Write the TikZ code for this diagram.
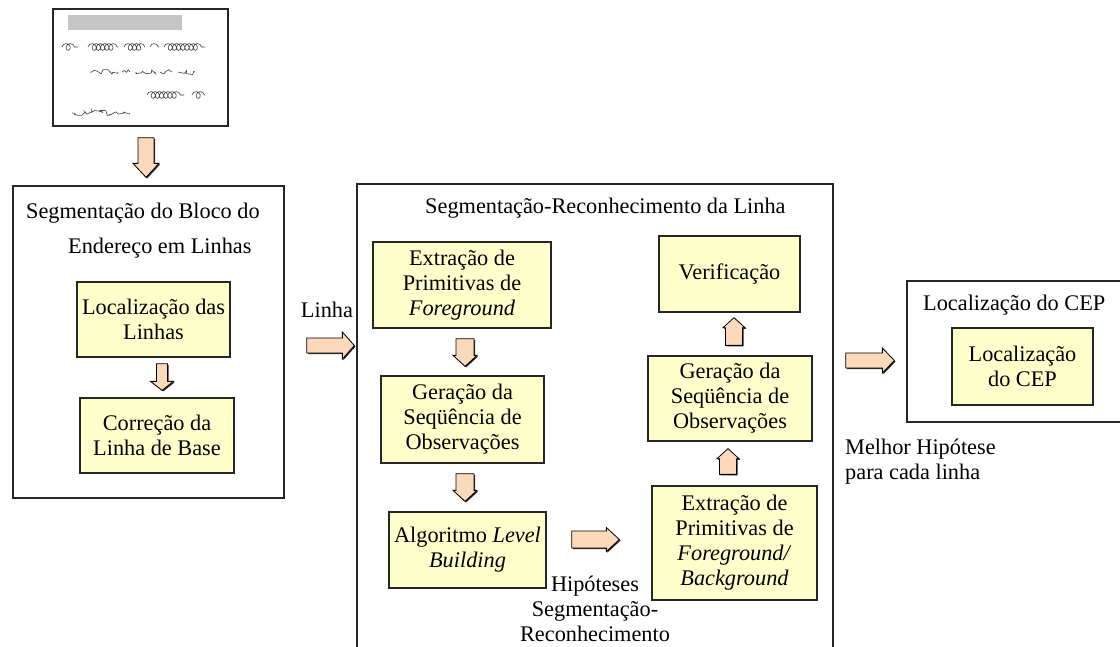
\documentclass[tikz,border=0pt]{standalone}
\usepackage{fontspec}
\setmainfont{Liberation Serif}
\usetikzlibrary{calc,shadows,decorations.pathmorphing}

\definecolor{boxfill}{RGB}{255,255,204}
\definecolor{peach}{RGB}{252,217,186}

\tikzset{
  txt/.style={font=\fontsize{22.3}{25}\selectfont},
  panel/.style={draw=black!85, line width=1.3pt, inner sep=0pt, fill=white},
  stage/.style={txt, draw=black!85, fill=boxfill, line width=1.3pt, align=center, inner sep=0pt},
  lbl/.style={txt, inner sep=0pt, align=center},
  blk/.style={draw=black, fill=peach, line width=0.8pt, line join=miter,
    drop shadow={shadow xshift=1.1pt, shadow yshift=-1.1pt, fill=black, opacity=0.85}},
  ink/.style={draw=black!75, line width=0.6pt, decorate,
    decoration={coil, aspect=0.9, segment length=4.2pt, amplitude=3.4pt}},
  inkb/.style={draw=black!75, line width=0.6pt, decorate,
    decoration={random steps, segment length=2.2pt, amplitude=2.6pt}},
}

% block arrows: #1 start, #2 tip, #3 half shaft width, #4 half head width, #5 head length
\newcommand\blockdown[5]{\draw[blk] let \p1=(#1), \p2=(#2) in
  (\x1-#3pt,\y1) -- (\x1+#3pt,\y1) -- (\x1+#3pt,\y2+#5pt) -- (\x1+#4pt,\y2+#5pt)
  -- (\x1,\y2) -- (\x1-#4pt,\y2+#5pt) -- (\x1-#3pt,\y2+#5pt) -- cycle;}
\newcommand\blockup[5]{\draw[blk] let \p1=(#1), \p2=(#2) in
  (\x1-#3pt,\y1) -- (\x1+#3pt,\y1) -- (\x1+#3pt,\y2-#5pt) -- (\x1+#4pt,\y2-#5pt)
  -- (\x1,\y2) -- (\x1-#4pt,\y2-#5pt) -- (\x1-#3pt,\y2-#5pt) -- cycle;}
\newcommand\blockright[5]{\draw[blk] let \p1=(#1), \p2=(#2) in
  (\x1,\y1+#3pt) -- (\x2-#5pt,\y1+#3pt) -- (\x2-#5pt,\y1+#4pt) -- (\x2,\y1)
  -- (\x2-#5pt,\y1-#4pt) -- (\x2-#5pt,\y1-#3pt) -- (\x1,\y1-#3pt) -- cycle;}

\begin{document}
\begin{tikzpicture}[x=1pt,y=-1pt]
\clip (0,0) rectangle (1120,646);
\fill[white] (0,0) rectangle (1120,646);

% ---- envelope with handwritten address ----
\node[panel, minimum width=175, minimum height=117] (env) at (140.5,67.5) {};
\fill[gray!45] (68,15) rectangle (182,30);
\foreach \a/\b in {62/78, 88/118, 124/145, 150/159, 164/205}
  \draw[ink] (\a,47) -- (\b,47);
\foreach \a/\b in {90/118, 122/130, 136/155, 160/172, 178/195}
  \draw[inkb] (\a,72) -- (\b,72);
\foreach \a/\b in {147/184, 192/205}
  \draw[ink] (\a,95) -- (\b,95);
\draw[inkb] (72,113) -- (130,113);

% ---- line segmentation stage ----
\node[panel, minimum width=271, minimum height=312] (segbox) at (148.5,342) {};
\node[lbl, anchor=base west] (segt1) at (26,218) {Segmentação do Bloco do};
\node[lbl, anchor=base west] (segt2) at (68,253) {Endereço em Linhas};
\node[stage, minimum width=153, minimum height=75] (loc) at (153.5,319.5) {Localização das\\Linhas};
\node[stage, minimum width=154, minimum height=75] (cor) at (157,435.5) {Correção da\\Linha de Base};

% ---- segmentation-recognition stage ----
\node[panel, minimum width=476, minimum height=480] (srbox) at (595,424) {};
\node[lbl, anchor=base west] (srt) at (425,213) {Segmentação-Reconhecimento da Linha};
\node[stage, minimum width=178, minimum height=86] (ext1) at (462,285)
  {Extração de\\Primitivas de\\\itshape Foreground};
\node[stage, minimum width=163, minimum height=87] (ger1) at (462.5,419.5)
  {Geração da\\Seqüência de\\Observações};
\node[stage, minimum width=157, minimum height=76] (alg) at (467.5,550)
  {Algoritmo \textit{Level}\\\itshape Building};
\node[stage, minimum width=141, minimum height=76] (ver) at (729.5,274) {Verificação};
\node[stage, minimum width=164, minimum height=85] (ger2) at (730,398.5)
  {Geração da\\Seqüência de\\Observações};
\node[stage, minimum width=165, minimum height=114] (ext2) at (734.5,543)
  {Extração de\\Primitivas de\\\textit{Foreground/}\\\itshape Background};
\node[lbl] (hip) at (595,609) {Hipóteses\\Segmentação-\\Reconhecimento};

% ---- postal code stage ----
\node[panel, minimum width=223, minimum height=141] (cepbox) at (1018.5,351.5) {};
\node[lbl, anchor=base west] (cept) at (923,310) {Localização do CEP};
\node[stage, minimum width=141, minimum height=77] (cep) at (1022.5,366.5) {Localização\\do CEP};
\node[lbl, align=left, anchor=west] (melhor) at (845,461.5) {Melhor Hipótese\\para cada linha};

% ---- labels and block arrows ----
\node[lbl] (linha) at (327,310) {Linha};

\coordinate (a1s) at ($(env.south)+(5.5,11)$);
\coordinate (a1t) at ($(segbox.north)+(0,-8)$);
\blockdown{a1s}{a1t}{8}{13}{14}

\coordinate (a2s) at ($(loc.south)+(8.5,6)$);
\coordinate (a2t) at ($(cor.north)+(0,-7)$);
\blockdown{a2s}{a2t}{5.5}{11.5}{9}

\coordinate (a3s) at ($(segbox.east)+(22,3.5)$);
\coordinate (a3t) at ($(srbox.west)+(-2,0)$);
\blockright{a3s}{a3t}{7.5}{13.5}{12}

\coordinate (a4s) at ($(ext1.south)+(3,10)$);
\coordinate (a4t) at ($(ger1.north)+(0,-9)$);
\blockdown{a4s}{a4t}{9}{12}{11}

\coordinate (a5s) at ($(ger1.south)+(2.5,10)$);
\coordinate (a5t) at ($(alg.north)+(0,-10)$);
\blockdown{a5s}{a5t}{9}{12}{11}

\coordinate (a6s) at ($(alg.east)+(25,-10.5)$);
\coordinate (a6t) at ($(ext2.west)+(-32,0)$);
\blockright{a6s}{a6t}{8.5}{12}{13}

\coordinate (a7s) at ($(ext2.north)+(-6.5,-11)$);
\coordinate (a7t) at ($(ger2.south)+(0,7)$);
\blockup{a7s}{a7t}{8.5}{11}{10}

\coordinate (a8s) at ($(ger2.north)+(4,-10)$);
\coordinate (a8t) at ($(ver.south)+(0,5)$);
\blockup{a8s}{a8t}{8.5}{11}{10}

\coordinate (a9s) at ($(srbox.east)+(12,-63.5)$);
\coordinate (a9t) at ($(cepbox.west)+(-12,0)$);
\blockright{a9s}{a9t}{7.5}{12.5}{12}
\end{tikzpicture}
\end{document}
